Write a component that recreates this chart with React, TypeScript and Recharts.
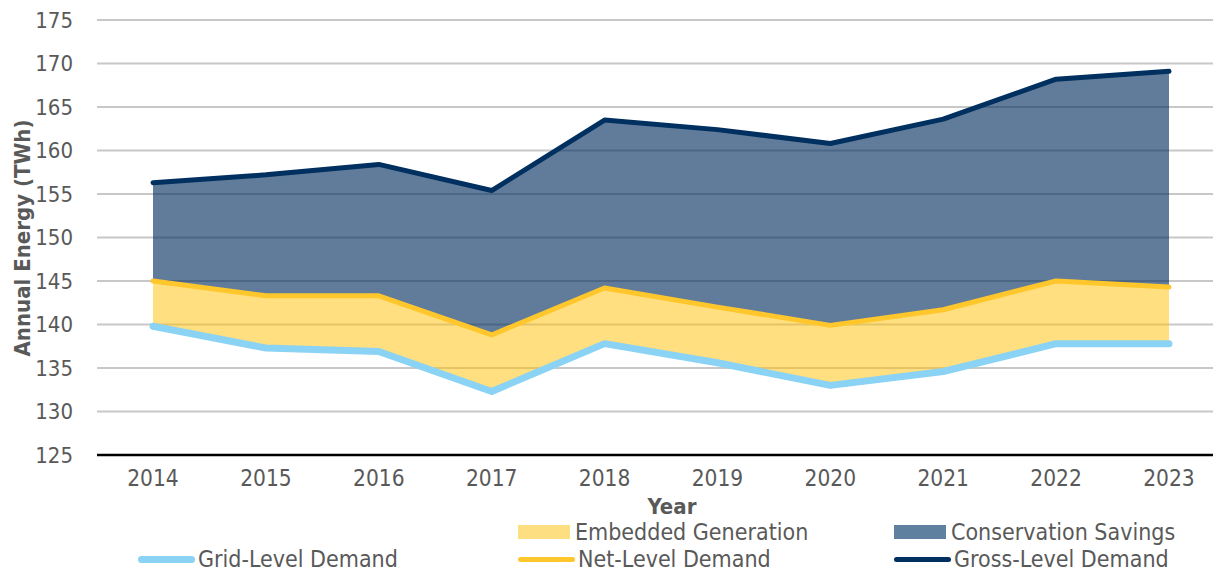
import React from "react";
import {
  ComposedChart,
  Area,
  Line,
  XAxis,
  YAxis,
  CartesianGrid,
} from "recharts";

// Values (TWh)
const years = ["2014", "2015", "2016", "2017", "2018", "2019", "2020", "2021", "2022", "2023"];
const gridLevel = [139.8, 137.3, 136.9, 132.3, 137.8, 135.6, 133.0, 134.6, 137.8, 137.8];
const netLevel = [145.0, 143.3, 143.3, 138.8, 144.2, 142.0, 139.9, 141.7, 145.0, 144.3];
const grossLevel = [156.3, 157.2, 158.4, 155.4, 163.5, 162.4, 160.8, 163.6, 168.2, 169.1];

const yTicks = [125, 130, 135, 140, 145, 150, 155, 160, 165, 170, 175];

const FONT = '"DejaVu Sans Condensed", "DejaVu Sans", Tahoma, sans-serif';
const TEXT = "#595959";

const COLORS = {
  grid: "#8BD3F5",
  net: "#FFC72C",
  gross: "#00305F",
  embedded: "#FFC000",
  conservation: "#002B5C",
};

// legend rows, laid out like the Excel legend (3 columns)
const legendRow1 = [
  { name: "Embedded Generation", kind: "area", color: "#FDDF82", col: 1 },
  { name: "Conservation Savings", kind: "area", color: "#60809F", col: 2 },
];
const legendRow2 = [
  { name: "Grid-Level Demand", kind: "line", color: COLORS.grid, width: 7, col: 0 },
  { name: "Net-Level Demand", kind: "line", color: COLORS.net, width: 5, col: 1 },
  { name: "Gross-Level Demand", kind: "line", color: COLORS.gross, width: 5, col: 2 },
];
const legendCols = [138, 518, 894];

const data = years.map((year, i) => ({
  year,
  grid: gridLevel[i],
  net: netLevel[i],
  gross: grossLevel[i],
  embedded: [gridLevel[i], netLevel[i]],
  conservation: [netLevel[i], grossLevel[i]],
}));

function LegendItem({ item, top }: { item: any; top: number }) {
  const left = legendCols[item.col];
  return (
    <div
      style={{
        position: "absolute",
        left,
        top,
        height: 22,
        display: "flex",
        alignItems: "center",
        fontFamily: FONT,
        fontSize: 23,
        lineHeight: 1,
        color: TEXT,
        whiteSpace: "nowrap",
      }}
    >
      {item.kind === "area" ? (
        <span style={{ width: 52, height: 14, background: item.color, marginRight: 5 }} />
      ) : (
        <span
          style={{
            width: 57,
            height: item.width,
            background: item.color,
            borderRadius: item.width / 2,
            marginRight: 3,
          }}
        />
      )}
      <span>{item.name}</span>
    </div>
  );
}

export default function App() {
  return (
    <div
      style={{
        position: "absolute",
        left: 0,
        top: 0,
        width: 1213,
        height: 571,
        overflow: "hidden",
        background: "#fff",
      }}
    >
      <ComposedChart
        width={1240}
        height={571}
        data={data}
        margin={{ top: 20, right: 14, bottom: 86, left: 0 }}
      >
        <CartesianGrid vertical={false} stroke="#C8C8C8" strokeWidth={2} />
        <XAxis
          dataKey="year"
          scale="point"
          padding={{ left: 56, right: 57 }}
          height={30}
          axisLine={{ stroke: "#000", strokeWidth: 2.5 }}
          tickLine={false}
          tickSize={0}
          tickMargin={15}
          tick={{ fill: TEXT, fontSize: 22.5, fontFamily: FONT }}
          interval={0}
          label={{
            content: () => (
              <text
                x={672}
                y={506}
                textAnchor="middle"
                dominantBaseline="central"
                fill={TEXT}
                fontFamily={FONT}
                fontSize={22}
                fontWeight="bold"
              >
                Year
              </text>
            ),
          }}
        />
        <YAxis
          domain={[125, 175]}
          ticks={yTicks}
          interval={0}
          width={97}
          axisLine={false}
          tickLine={false}
          tickSize={0}
          tickMargin={24}
          tick={{ fill: TEXT, fontSize: 22, fontFamily: FONT }}
          label={{
            content: () => (
              <text
                x={22}
                y={238}
                transform="rotate(-90 22 238)"
                textAnchor="middle"
                dominantBaseline="central"
                fill={TEXT}
                fontFamily={FONT}
                fontSize={22}
                fontWeight="bold"
              >
                Annual Energy (TWh)
              </text>
            ),
          }}
        />
        <Area
          dataKey="embedded"
          type="linear"
          stroke="none"
          fill={COLORS.embedded}
          fillOpacity={0.5}
          isAnimationActive={false}
        />
        <Area
          dataKey="conservation"
          type="linear"
          stroke="none"
          fill={COLORS.conservation}
          fillOpacity={0.62}
          isAnimationActive={false}
        />
        <Line
          dataKey="grid"
          type="linear"
          stroke={COLORS.grid}
          strokeWidth={7}
          strokeLinecap="round"
          strokeLinejoin="round"
          dot={false}
          isAnimationActive={false}
        />
        <Line
          dataKey="net"
          type="linear"
          stroke={COLORS.net}
          strokeWidth={5}
          strokeLinecap="round"
          strokeLinejoin="round"
          dot={false}
          isAnimationActive={false}
        />
        <Line
          dataKey="gross"
          type="linear"
          stroke={COLORS.gross}
          strokeWidth={5}
          strokeLinecap="round"
          strokeLinejoin="round"
          dot={false}
          isAnimationActive={false}
        />
      </ComposedChart>
      {legendRow1.map((item) => (
        <LegendItem key={item.name} item={item} top={521} />
      ))}
      {legendRow2.map((item) => (
        <LegendItem key={item.name} item={item} top={548} />
      ))}
    </div>
  );
}
